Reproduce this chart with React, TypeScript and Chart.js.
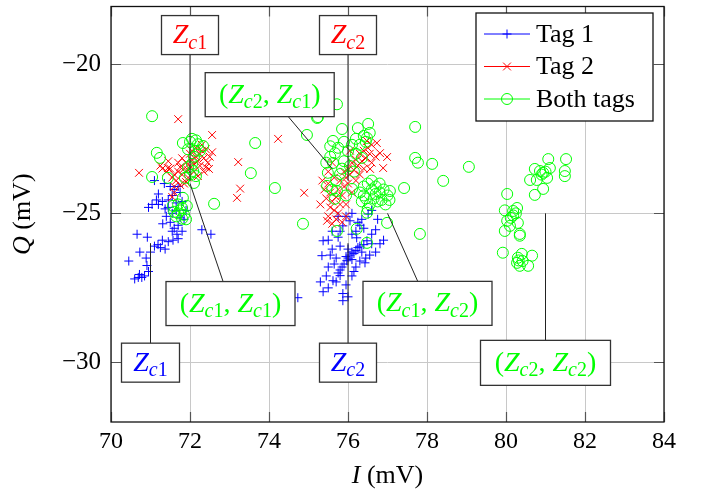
import React, { useEffect, useRef } from 'react';
import { Chart, registerables } from 'chart.js';
Chart.register(...registerables);

const xTicks = [70, 72, 74, 76, 78, 80, 82, 84];
const yTicks = [-30, -25, -20];
const seriesNames = ['Tag 1', 'Tag 2', 'Both tags'];

const tag1: [number, number][] = [
  [70.45, -26.6], [70.66, -25.7], [70.92, -25.8], [70.73, -26.3], [70.89, -26.5], [70.91, -26.75],
  [70.69, -27.15], [70.78, -27.15], [70.72, -27.05], [70.85, -27.1], [71.0, -26.3], [71.1, -26.1],
  [71.19, -26.05], [71.3, -25.9], [71.37, -26.2], [71.45, -25.95], [71.57, -25.9], [71.67, -25.7],
  [71.6, -25.5], [71.7, -25.4], [71.5, -25.3], [71.31, -25.35], [71.4, -25.1], [71.55, -25.0],
  [71.65, -24.9], [71.37, -24.85], [71.04, -24.7], [71.2, -24.7], [71.3, -24.6], [71.45, -24.55],
  [71.55, -24.4], [71.6, -24.2], [71.7, -24.1], [71.5, -24.1], [71.1, -23.9], [71.35, -24.0],
  [71.75, -24.3], [71.8, -24.6], [71.65, -24.65], [71.75, -25.15], [71.8, -25.6], [71.85, -25.2],
  [71.9, -24.9], [72.3, -25.55], [72.53, -25.7], [74.73, -27.83], [71.2, -24.35], [71.15, -24.55],
  [70.95, -24.8], [71.45, -24.8], [71.55, -25.6], [71.7, -25.85], [71.25, -26.15], [70.95, -26.95],
  [70.6, -27.2],
  [75.37, -25.92], [75.34, -26.42], [75.37, -27.63], [75.62, -27.26], [75.8, -27.09], [75.87, -27.69],
  [75.87, -27.93], [76.81, -26.02], [76.6, -26.02], [76.48, -25.92], [76.51, -25.02], [75.87, -25.42],
  [76.22, -25.82], [76.43, -26.66], [75.97, -26.59], [76.0, -26.5], [76.05, -26.4], [76.1, -26.3],
  [76.15, -26.35], [75.95, -26.45], [76.1, -26.55], [76.2, -26.25], [76.25, -26.15], [76.3, -26.1],
  [75.9, -26.7], [75.85, -26.8], [75.8, -26.9], [75.75, -27.0], [76.0, -26.2], [76.35, -26.3],
  [76.4, -26.05], [76.2, -25.6], [76.3, -25.4], [76.35, -25.2], [76.1, -25.0], [75.95, -25.1],
  [76.05, -25.25], [76.4, -25.5], [75.7, -27.3], [75.5, -27.5], [76.7, -26.3], [75.6, -25.6],
  [75.75, -25.8], [75.8, -26.1], [76.45, -26.5], [75.95, -27.4], [76.0, -27.8],
  [75.5, -25.9], [75.6, -26.2], [75.7, -26.5], [75.5, -26.8], [75.65, -26.7], [76.2, -26.8],
  [76.3, -26.6], [76.55, -26.4], [76.6, -25.7], [76.7, -25.55], [76.25, -25.3], [75.75, -25.1],
  [75.3, -27.3], [75.45, -27.1], [76.1, -27.1], [76.15, -26.95], [75.55, -26.4], [76.6, -24.9],
  [76.75, -25.2], [76.9, -25.9], [75.8, -25.6], [76.1, -25.7],
];

const tag2: [number, number][] = [
  [71.7, -21.84], [72.56, -22.37], [70.71, -23.64], [73.22, -23.28], [73.27, -24.17], [73.19, -24.48],
  [74.23, -22.5], [74.89, -24.31],
  [71.5, -23.5], [71.6, -23.7], [71.65, -23.9], [71.7, -23.6], [71.75, -23.45], [71.8, -23.7],
  [71.85, -23.5], [71.9, -23.3], [71.95, -23.55], [72.0, -23.4], [72.05, -23.2], [72.1, -23.35],
  [72.15, -23.1], [72.2, -23.25], [72.25, -23.0], [72.3, -22.9], [72.35, -23.15], [72.4, -22.85],
  [72.25, -23.4], [72.1, -23.6], [71.95, -23.8], [71.85, -24.0], [71.75, -24.05], [71.6, -24.1],
  [71.55, -23.8], [71.45, -23.25], [71.4, -23.6], [71.3, -23.5], [71.25, -23.4], [72.0, -23.0],
  [72.15, -22.8], [72.3, -22.7], [72.45, -23.3], [72.35, -23.6], [72.2, -23.75], [71.9, -23.95],
  [72.05, -22.9], [71.8, -23.15], [71.7, -23.3], [72.4, -23.45], [72.5, -23.1], [71.6, -24.3],
  [71.55, -24.45], [71.44, -23.48], [72.56, -22.95], [72.48, -23.51],
  [76.73, -22.64], [76.81, -22.98], [76.99, -23.11], [76.89, -23.48], [76.56, -23.51], [76.48, -22.57],
  [75.5, -24.0], [75.55, -24.3], [75.6, -24.6], [75.65, -24.9], [75.7, -25.2], [75.6, -25.35],
  [75.75, -25.0], [75.8, -24.7], [75.85, -24.4], [75.9, -24.1], [75.95, -23.8], [76.0, -23.5],
  [76.05, -23.7], [76.1, -23.3], [76.15, -23.55], [76.2, -23.2], [76.25, -23.4], [76.3, -23.0],
  [76.35, -23.25], [76.4, -22.9], [76.45, -23.15], [76.5, -22.8], [76.55, -23.0], [76.6, -22.7],
  [75.45, -24.5], [75.4, -24.2], [75.35, -23.9], [75.5, -23.6], [75.65, -23.8], [75.75, -24.2],
  [75.8, -23.9], [75.9, -23.6], [76.0, -24.0], [76.1, -24.3], [75.7, -24.45], [75.55, -24.8],
  [75.5, -25.1], [75.85, -25.3], [75.95, -25.1], [76.2, -23.9], [76.3, -23.7], [76.4, -23.5],
  [76.6, -23.3], [76.7, -23.1], [75.3, -24.7], [75.95, -24.7], [76.05, -22.9], [75.6, -23.3],
  [75.47, -25.25],
];

const bothTags: [number, number][] = [
  [71.04, -21.74], [72.05, -22.5], [72.2, -22.68], [72.33, -22.74], [71.82, -22.64], [72.13, -22.9],
  [71.16, -22.97], [71.24, -23.14], [71.04, -23.78], [71.44, -23.81], [71.87, -23.81], [72.05, -23.34],
  [72.08, -23.58], [72.1, -23.98], [72.61, -24.68], [71.82, -24.48], [73.65, -22.64], [73.54, -23.65],
  [74.15, -24.15], [74.96, -22.37], [74.86, -25.35], [75.24, -21.77],
  [72.0, -22.6], [72.15, -22.55], [72.25, -22.9], [71.95, -22.85], [72.1, -23.1], [72.0, -23.7],
  [71.95, -23.45], [72.15, -23.75],
  [71.8, -24.82], [71.7, -25.0], [71.8, -25.18], [71.57, -24.75], [71.92, -24.75], [71.75, -24.9],
  [71.85, -25.05], [71.65, -25.1], [71.7, -24.7], [71.9, -25.2], [71.6, -24.95],
  [75.72, -21.34], [75.22, -21.8], [75.85, -22.17], [76.25, -22.14], [76.51, -22.0], [76.48, -22.47],
  [75.62, -22.57], [75.67, -22.98], [76.0, -22.91], [76.35, -23.14], [75.62, -23.31], [76.05, -23.41],
  [75.49, -23.64], [75.8, -23.68], [75.47, -24.08], [75.72, -24.25], [75.67, -24.51], [76.1, -24.18],
  [77.7, -22.1], [77.7, -23.14], [77.77, -23.3], [78.13, -23.34], [79.06, -23.44], [78.41, -23.91],
  [77.42, -24.15], [77.82, -25.69], [77.06, -24.25],
  [76.4, -22.4], [76.55, -22.3], [76.45, -22.6], [76.3, -22.7], [76.2, -22.5], [75.9, -22.6],
  [75.75, -22.8], [76.1, -22.7], [75.55, -23.1], [75.9, -23.25], [76.2, -23.0], [75.7, -23.9],
  [75.6, -24.2], [75.85, -23.5], [75.55, -22.75], [75.45, -23.3], [75.95, -24.4], [76.15, -23.6],
  [76.3, -24.3], [76.4, -24.1], [76.5, -24.0], [76.6, -24.2], [76.7, -24.1], [76.8, -24.3],
  [76.9, -24.2], [77.0, -24.4], [76.35, -24.6], [76.45, -24.5], [76.55, -24.7], [76.65, -24.5],
  [76.75, -24.6], [76.85, -24.55], [76.95, -24.7], [76.4, -24.4], [76.7, -24.35], [76.5, -24.85],
  [76.6, -23.9], [76.8, -24.0], [77.05, -24.55],
  [75.72, -25.59], [76.99, -25.32], [76.48, -25.99], [76.48, -24.98], [76.22, -25.52],
  [81.07, -23.18], [81.52, -23.18], [81.49, -23.58], [81.49, -23.75], [80.61, -23.88], [80.73, -23.51],
  [80.78, -23.88], [80.94, -24.18], [80.73, -24.38], [81.11, -23.48], [81.04, -23.81], [80.86, -23.58],
  [80.94, -23.64], [80.9, -23.7], [81.0, -23.6],
  [80.03, -24.35], [79.97, -24.9], [80.28, -24.82], [80.18, -25.07], [80.03, -25.25], [80.3, -25.32],
  [79.97, -25.59], [80.35, -25.69], [80.1, -25.42], [80.18, -24.92], [80.12, -25.15], [80.25, -25.0],
  [79.92, -26.32], [80.3, -26.49], [80.28, -26.66], [80.66, -26.42], [80.56, -26.76], [80.35, -26.76],
  [80.4, -26.36], [80.35, -25.75], [80.32, -26.58], [80.42, -26.6],
];

const BLUE = '#0000ff';
const RED = '#ff0000';
const GREEN = '#00ff00';
const FONT = '"Liberation Serif", "DejaVu Serif", serif';

// math text segments: 0 regular, 1 italic, 2 regular subscript, 3 italic subscript
type Seg = [string, number];
const zc = (n: string): Seg[] => [['Z', 1], ['c', 3], [n, 2]];
const pair = (a: string, b: string): Seg[] => [['(', 0], ...zc(a), [', ', 0], ...zc(b), [')', 0]];

const annotations = [
  { segs: zc('1'), color: RED, at: [72, -23.9], off: [0, -145.5], w: 57, h: 39 },
  { segs: zc('2'), color: RED, at: [76, -23.9], off: [0, -145.5], w: 57, h: 39 },
  { segs: pair('2', '1'), color: GREEN, at: [75.6, -23.5], off: [-62.5, -74], w: 129, h: 44 },
  { segs: pair('1', '1'), color: GREEN, at: [72, -24], off: [40.5, 120], w: 129, h: 44 },
  { segs: zc('1'), color: BLUE, at: [71, -26], off: [0, 119.5], w: 58, h: 39 },
  { segs: zc('2'), color: BLUE, at: [76, -26], off: [0, 119.5], w: 57, h: 39 },
  { segs: pair('1', '2'), color: GREEN, at: [77, -25], off: [40, 90], w: 129, h: 44 },
  { segs: pair('2', '2'), color: GREEN, at: [81, -25], off: [0, 149.5], w: 130, h: 45 },
];

function drawMath(ctx: CanvasRenderingContext2D, segs: Seg[], cx: number, baseY: number, size: number, color: string) {
  const fontFor = (k: number) => `${k === 1 || k === 3 ? 'italic ' : ''}${k >= 2 ? Math.round(size * 0.7) : size}px ${FONT}`;
  let total = 0;
  const widths = segs.map(([t, k]) => {
    ctx.font = fontFor(k);
    const w = ctx.measureText(t).width;
    total += w;
    return w;
  });
  let x = cx - total / 2;
  ctx.fillStyle = color;
  ctx.textAlign = 'left';
  ctx.textBaseline = 'alphabetic';
  segs.forEach(([t, k], i) => {
    ctx.font = fontFor(k);
    ctx.fillText(t, x, baseY + (k >= 2 ? size * 0.2 : 0));
    x += widths[i];
  });
}

function drawMarker(ctx: CanvasRenderingContext2D, style: string, x: number, y: number, color: string) {
  ctx.strokeStyle = color;
  ctx.lineWidth = 1;
  ctx.beginPath();
  if (style === 'cross') {
    ctx.moveTo(x - 4.5, y); ctx.lineTo(x + 4.5, y); ctx.moveTo(x, y - 4.5); ctx.lineTo(x, y + 4.5);
  } else if (style === 'crossRot') {
    const d = 3.9;
    ctx.moveTo(x - d, y - d); ctx.lineTo(x + d, y + d); ctx.moveTo(x - d, y + d); ctx.lineTo(x + d, y - d);
  } else {
    ctx.arc(x, y, 5.5, 0, Math.PI * 2);
  }
  ctx.stroke();
}

const overlay = {
  id: 'overlay',
  afterDatasetsDraw(chart: any) {
    const { ctx, chartArea: a, scales } = chart;
    const xs = scales.x, ys = scales.y;
    ctx.save();
    // inner tick marks
    ctx.strokeStyle = '#555';
    ctx.lineWidth = 1.2;
    ctx.beginPath();
    xTicks.forEach((v) => {
      const px = Math.round(xs.getPixelForValue(v)) + 0.5;
      ctx.moveTo(px, a.bottom); ctx.lineTo(px, a.bottom - 10);
      ctx.moveTo(px, a.top); ctx.lineTo(px, a.top + 10);
    });
    yTicks.forEach((v) => {
      const py = Math.round(ys.getPixelForValue(v)) + 0.5;
      ctx.moveTo(a.left, py); ctx.lineTo(a.left + 10, py);
      ctx.moveTo(a.right, py); ctx.lineTo(a.right - 10, py);
    });
    ctx.stroke();
    // frame
    ctx.strokeStyle = '#111';
    ctx.lineWidth = 1.3;
    ctx.strokeRect(a.left, a.top, a.right - a.left, a.bottom - a.top);

    // annotations
    annotations.forEach((an) => {
      const px = xs.getPixelForValue(an.at[0]);
      const py = ys.getPixelForValue(an.at[1]);
      const cx = px + an.off[0];
      const cy = py + an.off[1];
      ctx.strokeStyle = '#222';
      ctx.lineWidth = 1;
      ctx.beginPath();
      ctx.moveTo(px, py);
      ctx.lineTo(cx, cy);
      ctx.stroke();
      ctx.fillStyle = '#fff';
      ctx.fillRect(cx - an.w / 2, cy - an.h / 2, an.w, an.h);
      ctx.strokeStyle = '#333';
      ctx.lineWidth = 1.3;
      ctx.strokeRect(cx - an.w / 2, cy - an.h / 2, an.w, an.h);
      drawMath(ctx, an.segs, cx, cy + 8, 28, an.color);
    });

    // legend
    const lx = 476, ly = 13, lw = 177, lh = 108;
    ctx.fillStyle = '#fff';
    ctx.fillRect(lx, ly, lw, lh);
    ctx.strokeStyle = '#111';
    ctx.lineWidth = 1.3;
    ctx.strokeRect(lx, ly, lw, lh);
    const colors = [BLUE, RED, GREEN];
    const styles = ['cross', 'crossRot', 'circle'];
    seriesNames.forEach((name, i) => {
      const yy = ly + 21 + i * 32.5;
      ctx.strokeStyle = colors[i];
      ctx.lineWidth = 1;
      ctx.beginPath();
      ctx.moveTo(lx + 8, yy); ctx.lineTo(lx + 54, yy);
      ctx.stroke();
      drawMarker(ctx, styles[i], lx + 31, yy, colors[i]);
      ctx.fillStyle = '#000';
      ctx.font = `26px ${FONT}`;
      ctx.textAlign = 'left';
      ctx.textBaseline = 'middle';
      ctx.fillText(name, lx + 60, yy + 1);
    });

    // axis titles
    drawMath(ctx, [['I', 1], [' (mV)', 0]], (a.left + a.right) / 2, 483, 26, '#000');
    ctx.save();
    ctx.translate(30, (a.top + a.bottom) / 2);
    ctx.rotate(-Math.PI / 2);
    drawMath(ctx, [['Q', 1], [' (mV)', 0]], 0, 0, 26, '#000');
    ctx.restore();

    ctx.restore();
  },
};

export default function App() {
  const ref = useRef<HTMLCanvasElement>(null);
  useEffect(() => {
    if (!ref.current) return;
    const mk = (label: string, data: [number, number][], color: string, style: string, r: number, order: number) => ({
      label,
      data: data.map(([x, y]) => ({ x, y })),
      showLine: false,
      borderColor: color,
      backgroundColor: 'transparent',
      pointStyle: style,
      pointRadius: r,
      pointBorderWidth: 1,
      pointHoverRadius: r,
      order,
    });
    const chart = new Chart(ref.current, {
      type: 'scatter',
      data: {
        datasets: [
          mk(seriesNames[0], tag1, BLUE, 'cross', 4.5, 3),
          mk(seriesNames[1], tag2, RED, 'crossRot', 5.5, 2),
          mk(seriesNames[2], bothTags, GREEN, 'circle', 5.5, 1),
        ],
      },
      options: {
        animation: false,
        responsive: true,
        maintainAspectRatio: false,
        layout: { padding: { top: 5, right: 46, left: 0, bottom: 0 } },
        plugins: { legend: { display: false }, tooltip: { enabled: false } },
        scales: {
          x: {
            type: 'linear',
            min: 70,
            max: 84,
            afterBuildTicks: (s: any) => { s.ticks = xTicks.map((v) => ({ value: v })); },
            afterFit: (s: any) => { s.height = 73; s.paddingLeft = 0; s.paddingRight = 0; },
            ticks: { color: '#000', font: { family: FONT, size: 24 }, padding: 5, maxRotation: 0 },
            grid: { color: '#c8c8c8', lineWidth: 1, drawTicks: false },
            border: { display: false },
          },
          y: {
            type: 'linear',
            min: -32,
            max: -18.06,
            afterBuildTicks: (s: any) => { s.ticks = yTicks.map((v) => ({ value: v })); },
            afterFit: (s: any) => { s.width = 111; s.paddingTop = 0; s.paddingBottom = 0; },
            ticks: {
              color: '#000',
              font: { family: FONT, size: 25 },
              padding: 10,
              callback: (v: any) => (v < 0 ? '\u2212' + Math.abs(v) : String(v)),
            },
            grid: { color: '#c8c8c8', lineWidth: 1, drawTicks: false },
            border: { display: false },
          },
        },
      },
      plugins: [overlay],
    });
    return () => chart.destroy();
  }, []);
  return (
    <div style={{ position: 'fixed', left: 0, top: 0, width: 710, height: 495 }}>
      <canvas ref={ref} />
    </div>
  );
}
